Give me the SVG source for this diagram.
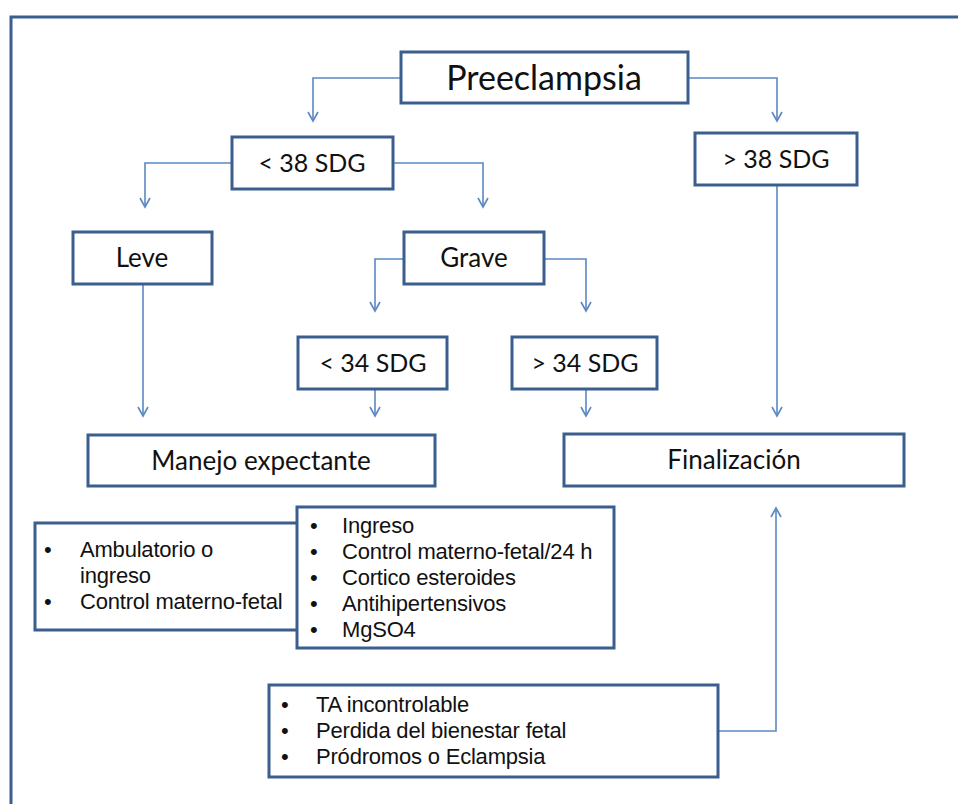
<svg xmlns="http://www.w3.org/2000/svg" width="958" height="804" viewBox="0 0 958 804">
<defs>
<style>
.box{fill:#fff;stroke:#3a5f8e;stroke-width:3}
.lbl{font-family:Lato,"Open Sans",sans-serif;font-size:26px;fill:#111;text-anchor:middle}
.sdg{font-size:25px}
.big{font-size:34px}
.li{font-family:"Liberation Sans",Arial,sans-serif;font-size:22px;fill:#111;letter-spacing:-0.2px}
.con{fill:none;stroke:#5b88c4;stroke-width:1.6}
</style>
<marker id="arr" markerWidth="12" markerHeight="12" refX="10" refY="6" orient="auto" markerUnits="userSpaceOnUse">
<path d="M1,1 L10,6 L1,11" fill="none" stroke="#5b88c4" stroke-width="1.6"/>
</marker>
</defs>
<rect width="958" height="804" fill="#fff"/>
<path d="M11,820 L11,17 L970,17" fill="none" stroke="#3a5f8e" stroke-width="3"/>
<g id="connectors">
<path class="con" d="M401,78 H313 V121" marker-end="url(#arr)"/>
<path class="con" d="M688,78 H777 V121" marker-end="url(#arr)"/>
<path class="con" d="M232,163 H145 V207" marker-end="url(#arr)"/>
<path class="con" d="M393,163 H483 V207" marker-end="url(#arr)"/>
<path class="con" d="M143,284 V416" marker-end="url(#arr)"/>
<path class="con" d="M404,259 H375 V311" marker-end="url(#arr)"/>
<path class="con" d="M544,259 H586 V311" marker-end="url(#arr)"/>
<path class="con" d="M375,389 V416" marker-end="url(#arr)"/>
<path class="con" d="M586,389 V416" marker-end="url(#arr)"/>
<path class="con" d="M777,185 V416" marker-end="url(#arr)"/>
<path class="con" d="M718,731 H776 V508" marker-end="url(#arr)"/>
</g>
<g id="n-preeclampsia"><rect class="box" x="401" y="52" width="287" height="51"/><text class="lbl big" x="544" y="90">Preeclampsia</text></g>
<g id="n-lt38"><rect class="box" x="232" y="137" width="161" height="52"/><text class="lbl sdg" x="312" y="172">&lt; 38 SDG</text></g>
<g id="n-gt38"><rect class="box" x="695" y="133" width="162" height="52"/><text class="lbl sdg" x="776" y="168">&gt; 38 SDG</text></g>
<g id="n-leve"><rect class="box" x="73" y="232" width="139" height="52"/><text class="lbl" x="142" y="267">Leve</text></g>
<g id="n-grave"><rect class="box" x="404" y="232" width="140" height="52"/><text class="lbl" x="474" y="267">Grave</text></g>
<g id="n-lt34"><rect class="box" x="298" y="337" width="149" height="52"/><text class="lbl sdg" x="373" y="372">&lt; 34 SDG</text></g>
<g id="n-gt34"><rect class="box" x="512" y="337" width="145" height="52"/><text class="lbl sdg" x="585" y="372">&gt; 34 SDG</text></g>
<g id="n-manejo"><rect class="box" x="88" y="435" width="347" height="51"/><text class="lbl" x="261" y="470">Manejo expectante</text></g>
<g id="n-final"><rect class="box" x="564" y="434" width="340" height="52"/><text class="lbl" x="734" y="469">Finalización</text></g>
<g id="n-list1"><rect class="box" x="35" y="523" width="275" height="107"/>
<text class="li" x="44" y="557">•</text><text class="li" x="80" y="557">Ambulatorio o</text>
<text class="li" x="80" y="583">ingreso</text>
<text class="li" x="44" y="609">•</text><text class="li" x="80" y="609">Control materno-fetal</text></g>
<g id="n-list2"><rect class="box" x="297" y="507" width="317" height="141"/>
<text class="li" x="310" y="533">•</text><text class="li" x="342" y="533">Ingreso</text>
<text class="li" x="310" y="559">•</text><text class="li" x="342" y="559">Control materno-fetal/24 h</text>
<text class="li" x="310" y="585">•</text><text class="li" x="342" y="585">Cortico esteroides</text>
<text class="li" x="310" y="611">•</text><text class="li" x="342" y="611">Antihipertensivos</text>
<text class="li" x="310" y="637">•</text><text class="li" x="342" y="637">MgSO4</text></g>
<g id="n-list3"><rect class="box" x="269" y="685" width="449" height="92"/>
<text class="li" x="281" y="712">•</text><text class="li" x="316" y="712">TA incontrolable</text>
<text class="li" x="281" y="738">•</text><text class="li" x="316" y="738">Perdida del bienestar fetal</text>
<text class="li" x="281" y="764">•</text><text class="li" x="316" y="764">Pródromos o Eclampsia</text></g>
</svg>
